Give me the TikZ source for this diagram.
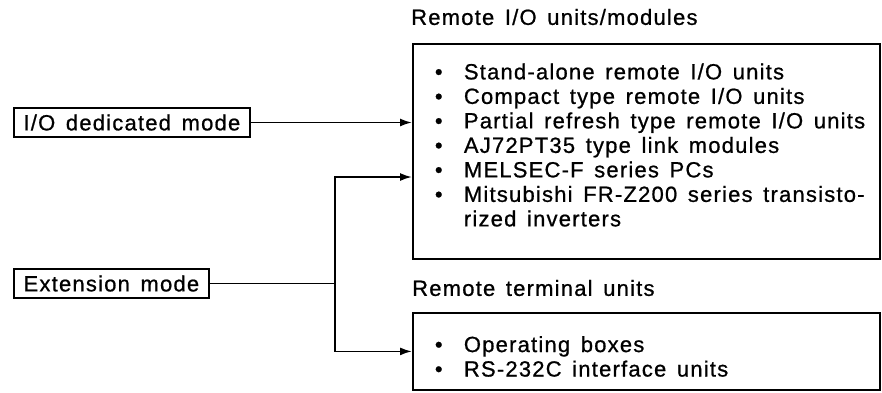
\documentclass[tikz,border=0pt]{standalone}
\usepackage{fontspec}
\setmainfont{Liberation Sans}[LetterSpace=5.5, WordSpace=1.45, FakeBold=0.8]
\usetikzlibrary{arrows.meta, positioning}

\newcommand{\bul}{\hspace*{11pt}\makebox[29pt][l]{\textbullet}}

\begin{document}
\begin{tikzpicture}[
  x=1pt, y=-1pt,
  >={Latex[length=12pt, width=8pt]},
  every node/.style={font=\fontsize{22}{24.5}\selectfont},
  modebox/.style={draw, line width=1.8pt, inner sep=0pt, minimum height=29pt, anchor=west},
  unitbox/.style={draw, line width=1.8pt, anchor=north west, minimum width=467pt, inner xsep=11pt, inner ysep=0pt, align=flush left, text width=445pt},
  heading/.style={anchor=west, inner sep=0pt},
  flow/.style={->, line width=1.8pt}
]
\useasboundingbox (0,0) rectangle (882,392);

\node[heading] (remiohd) at (411,17) {Remote I/O units/modules};
\node[unitbox, minimum height=215pt] (remio) at (412,43) {%
  \bul Stand-alone remote I/O units\\
  \bul Compact type remote I/O units\\
  \bul Partial refresh type remote I/O units\\
  \bul AJ72PT35 type link modules\\
  \bul MELSEC-F series PCs\\
  \bul Mitsubishi FR-Z200 series transisto-\\
  \hspace*{40pt}rized inverters\rule[-13pt]{0pt}{1pt}};

\node[heading] (remtermhd) at (412,288) {Remote terminal units};
\node[unitbox, minimum height=77pt] (remterm) at (412,312) {%
  \bul Operating boxes\rule{0pt}{26pt}\\
  \bul RS-232C interface units};

\node[modebox, minimum width=236pt] (iodm) at (13,122.5) {I/O dedicated mode};
\node[modebox, minimum width=195pt] (extm) at (13,283.5) {Extension mode};

\coordinate (fork) at (335,283.5);
\coordinate (tapup) at (412,177);

\draw[flow] (iodm.east) -- (iodm.east -| remio.west);
\draw[flow] (extm.east) -- (fork) |- (tapup);
\draw[flow] (fork) |- (remterm.west);
\end{tikzpicture}
\end{document}
